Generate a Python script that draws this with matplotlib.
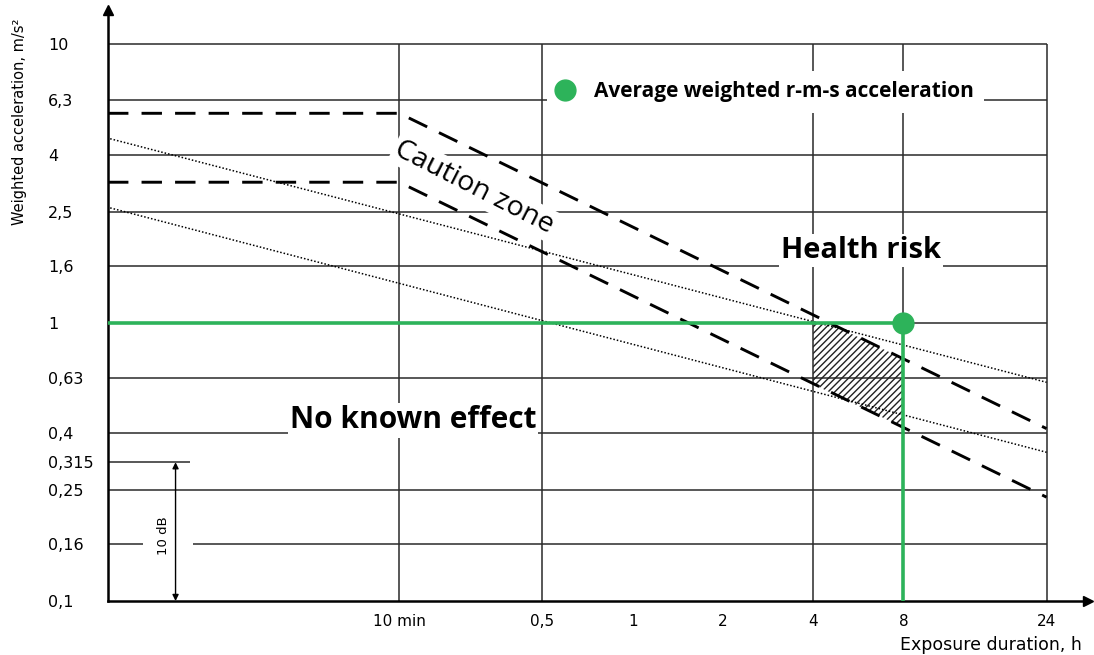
import matplotlib
matplotlib.use("Agg")
import matplotlib.pyplot as plt
from matplotlib.lines import Line2D
from matplotlib.ticker import FixedLocator, FixedFormatter, NullLocator

# exposure duration (h)
x_ticks = [1 / 6, 0.5, 1, 2, 4, 8, 24]
x_tick_labels = ["10 min", "0,5", "1", "2", "4", "8", "24"]
x_grid = [1 / 6, 0.5, 4, 8, 24]

# weighted acceleration (m/s²)
y_ticks = [0.1, 0.16, 0.25, 0.315, 0.4, 0.63, 1, 1.6, 2.5, 4, 6.3, 10]
y_tick_labels = ["0,1", "0,16", "0,25", "0,315", "0,4", "0,63", "1", "1,6", "2,5", "4", "6,3", "10"]
y_grid = [0.25, 0.4, 0.63, 1, 1.6, 2.5, 4, 6.3, 10]

# caution zone limits (dashed)
upper_x = [0.0178, 1 / 6, 24]
upper_y = [5.64, 5.64, 0.416]
lower_x = [0.0178, 1 / 6, 24]
lower_y = [3.19, 3.19, 0.236]

# dotted limits
dot_upper_x = [0.0181, 24]
dot_upper_y = [4.57, 0.61]
dot_lower_x = [0.0181, 24]
dot_lower_y = [2.58, 0.342]

# hatched part of the caution zone
hatch_x = [4, 4.48, 8, 8, 4]
hatch_y = [1.0, 1.0, 0.74, 0.42, 0.60]

# measured point
avg_dur = 8
avg_acc = 1.0

GREEN = "#2db35a"
GRID = "#2a2a2a"

x_min, x_max = 0.0178, 33
y_min, y_max = 0.1, 13.25

plt.rcParams["hatch.linewidth"] = 1.0

fig = plt.figure(figsize=(10.94, 6.55), dpi=100)
ax = fig.add_axes([108 / 1094, 54 / 655, 980 / 1094, 591 / 655])
ax.set_xscale("log")
ax.set_yscale("log")
ax.set_xlim(x_min, x_max)
ax.set_ylim(y_min, y_max)

# grid
ax.hlines(y_grid, x_min, 24, color=GRID, lw=1.1, zorder=1)
ax.hlines([0.16, 0.16], [x_min, 0.0343], [0.0232, 24], color=GRID, lw=1.1, zorder=1)
ax.hlines(0.315, x_min, 0.0335, color=GRID, lw=1.1, zorder=1)
ax.vlines(x_grid, y_min, 10, color=GRID, lw=1.1, zorder=1)

# limit lines
ax.plot(upper_x, upper_y, color="k", lw=2.1, dashes=(7, 4.5), zorder=5)
ax.plot(lower_x, lower_y, color="k", lw=2.1, dashes=(7, 4.5), zorder=5)
ax.plot(dot_upper_x, dot_upper_y, color="k", lw=1.1, dashes=(1, 1.3), zorder=4)
ax.plot(dot_lower_x, dot_lower_y, color="k", lw=1.1, dashes=(1, 1.3), zorder=4)

ax.fill(hatch_x, hatch_y, facecolor="none", edgecolor="#222222", hatch="/////", lw=0, zorder=3)

# measured exposure
ax.plot([x_min, avg_dur], [avg_acc, avg_acc], color=GREEN, lw=2.6, zorder=6)
ax.plot([avg_dur, avg_dur], [avg_acc, y_min], color=GREEN, lw=2.6, zorder=6)
ax.plot([avg_dur], [avg_acc], "o", color=GREEN, ms=15, zorder=7)

# zone labels
white = dict(facecolor="white", edgecolor="none", pad=1.5)
ax.text(0.295, 3.06, "Caution zone", rotation=-27, fontsize=20.5, family="Open Sans",
        ha="center", va="center", bbox=white, zorder=2)
ax.text(5.77, 1.81, "Health risk", fontsize=21, fontweight="bold", family="Open Sans",
        ha="center", va="center", bbox=white, zorder=2)
ax.text(0.185, 0.445, "No known effect", fontsize=21.5, fontweight="bold", family="Open Sans",
        ha="center", va="center", bbox=white, zorder=2)

# 10 dB span
ax.annotate("", xy=(0.0299, 0.315), xytext=(0.0299, 0.1),
            arrowprops=dict(arrowstyle="<|-|>", color="k", lw=1.0, mutation_scale=9,
                            shrinkA=0, shrinkB=0), zorder=5)
ax.text(0.0272, 0.172, "10 dB", rotation=90, fontsize=9.5, ha="center", va="center",
        zorder=2)

# axes
for side in ("top", "right"):
    ax.spines[side].set_visible(False)
for side in ("left", "bottom"):
    ax.spines[side].set_linewidth(1.8)
ax.plot([0], [1], marker="^", color="k", ms=7, transform=ax.transAxes, clip_on=False)
ax.plot([1], [0], marker=">", color="k", ms=7, transform=ax.transAxes, clip_on=False)

ax.xaxis.set_major_locator(FixedLocator(x_ticks))
ax.xaxis.set_major_formatter(FixedFormatter(x_tick_labels))
ax.xaxis.set_minor_locator(NullLocator())
ax.yaxis.set_major_locator(FixedLocator(y_ticks))
ax.yaxis.set_major_formatter(FixedFormatter(y_tick_labels))
ax.yaxis.set_minor_locator(NullLocator())
ax.tick_params(axis="x", length=0, pad=9, labelsize=11)
ax.tick_params(axis="y", length=0, pad=43, labelsize=11.5)
for lab in ax.get_yticklabels():
    lab.set_horizontalalignment("left")

fig.text(20 / 1094, 1 - 122 / 655, "Weighted acceleration, m/s²", rotation=90,
         fontsize=10.5, ha="center", va="center")
fig.text(900 / 1094, 1 - 645 / 655, "Exposure duration, h", fontsize=12.5,
         ha="left", va="center")

handle = Line2D([], [], marker="o", color=GREEN, lw=0, ms=15)
leg = ax.legend([handle], ["Average weighted r-m-s acceleration"], loc="center left",
                bbox_to_anchor=((547 - 108) / 980, 1 - (92 - 10) / 591),
                frameon=True, facecolor="white", edgecolor="none", framealpha=1,
                borderaxespad=0, borderpad=0.5, handlelength=0.75, handletextpad=1.0,
                prop=dict(family="Open Sans", weight="bold", size=15))
leg.set_zorder(8)

fig.savefig("out.png", dpi=100)
